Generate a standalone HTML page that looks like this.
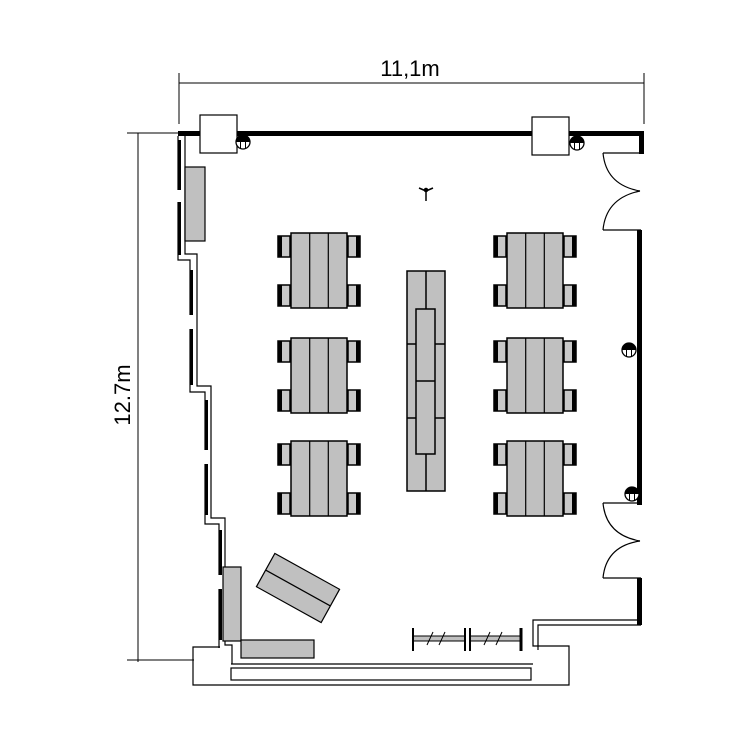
<!DOCTYPE html>
<html><head><meta charset="utf-8"><style>html,body{margin:0;padding:0;background:#fff}svg{display:block}</style></head>
<body>
<svg width="750" height="750" viewBox="0 0 750 750" xmlns="http://www.w3.org/2000/svg">
<defs>
<g id="chairL"><rect x="0" y="0" width="12" height="21" fill="#c8c8c8" stroke="#000" stroke-width="1.5"/><rect x="0" y="0" width="4" height="21" fill="#000"/></g>
<g id="chairR"><rect x="0" y="0" width="12" height="21" fill="#c8c8c8" stroke="#000" stroke-width="1.5"/><rect x="8" y="0" width="4" height="21" fill="#000"/></g>
<g id="tbl">
<use href="#chairL" x="-13" y="3"/><use href="#chairL" x="-13" y="52"/>
<use href="#chairR" x="57" y="3"/><use href="#chairR" x="57" y="52"/>
<rect x="0" y="0" width="56" height="75" fill="#c0c0c0" stroke="#000" stroke-width="1.5"/>
<line x1="18.7" y1="0" x2="18.7" y2="75" stroke="#000" stroke-width="1.2"/>
<line x1="37.3" y1="0" x2="37.3" y2="75" stroke="#000" stroke-width="1.2"/>
</g>
<g id="out"><circle cx="0" cy="0" r="7" fill="#fff" stroke="#000" stroke-width="1.3"/><path d="M-7,0 A7,7 0 0 1 7,0 Z" fill="#000"/><line x1="-2.5" y1="0" x2="-2.5" y2="6.5" stroke="#000"/><line x1="2.5" y1="0" x2="2.5" y2="6.5" stroke="#000"/></g>
</defs>
<g stroke="#000" stroke-width="1" fill="none">
<line x1="179" y1="83" x2="644" y2="83"/>
<line x1="179" y1="73" x2="179" y2="124"/>
<line x1="644" y1="73" x2="644" y2="124"/>
<line x1="138" y1="133" x2="138" y2="662"/>
<line x1="127" y1="133" x2="180" y2="133"/>
<line x1="127" y1="660" x2="194" y2="660"/>
</g>
<text x="410" y="76" font-family="Liberation Sans, sans-serif" font-size="22" text-anchor="middle">11,1m</text>
<text transform="translate(130,395) rotate(-90)" font-family="Liberation Sans, sans-serif" font-size="22" text-anchor="middle">12.7m</text>
<g fill="#000">
<rect x="178" y="131" width="24" height="5"/>
<rect x="234" y="131" width="298" height="5"/>
<rect x="569" y="131" width="75" height="5"/>
<rect x="639" y="131" width="5" height="23"/>
<rect x="637" y="230" width="5" height="275"/>
<rect x="637" y="578" width="5" height="47"/>
</g>
<rect x="200" y="115" width="37" height="38" fill="#fff" stroke="#000" stroke-width="1.2"/>
<rect x="532" y="117" width="37" height="38" fill="#fff" stroke="#000" stroke-width="1.2"/>
<g stroke="#000" stroke-width="1.2" fill="none">
<polyline points="641,153 603,153"/>
<polyline points="603,230 641,230"/>
<polyline points="641,503 603,503"/>
<polyline points="603,578 641,578"/>
<path d="M603,153 Q606,185 640,191"/>
<path d="M603,230 Q606,198 640,191"/>
<path d="M603,503 Q606,535 640,541"/>
<path d="M603,578 Q606,546 640,541"/>
<polyline points="641,620 533,620 533,646 569,646 569,685 193,685 193,647 220,647"/>
<polyline points="641,625 538,625 538,650"/>
<rect x="231" y="668" width="300" height="12"/>
<line x1="231" y1="664" x2="533" y2="664"/>
<polyline points="178,136 178,260 190,260 190,392 205,392 205,524 219,524 219,648"/>
<polyline points="185,136 185,254 197,254 197,386 211,386 211,518 225,518 225,645 232,645 232,664"/>
</g>
<g fill="#000">
<rect x="178" y="140" width="3" height="115"/>
<rect x="190" y="270" width="3" height="115"/>
<rect x="205" y="400" width="3" height="115"/>
<rect x="219" y="530" width="3" height="110"/>
</g>
<g fill="#fff"><rect x="177" y="190" width="5" height="12"/><rect x="189" y="315" width="5" height="14"/><rect x="204" y="450" width="5" height="14"/><rect x="218" y="575" width="5" height="14"/></g>
<use href="#out" x="243" y="142"/>
<use href="#out" x="577" y="143"/>
<use href="#out" x="629" y="350"/>
<use href="#out" x="632" y="494"/>
<g stroke="#000" stroke-width="1.5" fill="none"><line x1="426" y1="188" x2="426" y2="201"/><path d="M419,188 L426,191 L433,188"/><circle cx="426" cy="190" r="1.5" fill="#000"/></g>
<use href="#tbl" x="291" y="233"/>
<use href="#tbl" x="291" y="338"/>
<use href="#tbl" x="291" y="441"/>
<use href="#tbl" x="507" y="233"/>
<use href="#tbl" x="507" y="338"/>
<use href="#tbl" x="507" y="441"/>
<g stroke="#000" stroke-width="1.5" fill="#c0c0c0">
<rect x="407" y="271" width="38" height="220"/>
<line x1="426" y1="271" x2="426" y2="491"/>
<line x1="407" y1="344" x2="445" y2="344"/>
<line x1="407" y1="418" x2="445" y2="418"/>
<rect x="416" y="309" width="19" height="145"/>
<line x1="416" y1="381" x2="435" y2="381"/>
</g>
<g stroke="#000" stroke-width="1.2" fill="#c0c0c0">
<rect x="185" y="167" width="20" height="74"/>
<rect x="223" y="567" width="18" height="74"/>
<rect x="241" y="640" width="73" height="18"/>
<g transform="translate(298,588) rotate(29)"><rect x="-37" y="-19" width="74" height="38"/><line x1="-37" y1="0" x2="37" y2="0"/></g>
</g>
<g stroke="#000">
<rect x="413" y="636" width="52" height="5" fill="#c0c0c0" stroke-width="1"/>
<rect x="470" y="636" width="50" height="5" fill="#c0c0c0" stroke-width="1"/>
<line x1="413" y1="628" x2="413" y2="651" stroke-width="2"/>
<line x1="465" y1="628" x2="465" y2="651" stroke-width="2"/>
<line x1="470" y1="628" x2="470" y2="651" stroke-width="2"/>
<line x1="521" y1="628" x2="521" y2="651" stroke-width="3"/>
<g stroke-width="1"><line x1="427" y1="645" x2="433" y2="632"/><line x1="439" y1="645" x2="445" y2="632"/><line x1="484" y1="645" x2="490" y2="632"/><line x1="496" y1="645" x2="502" y2="632"/></g>
</g>
</svg>
</body></html>
